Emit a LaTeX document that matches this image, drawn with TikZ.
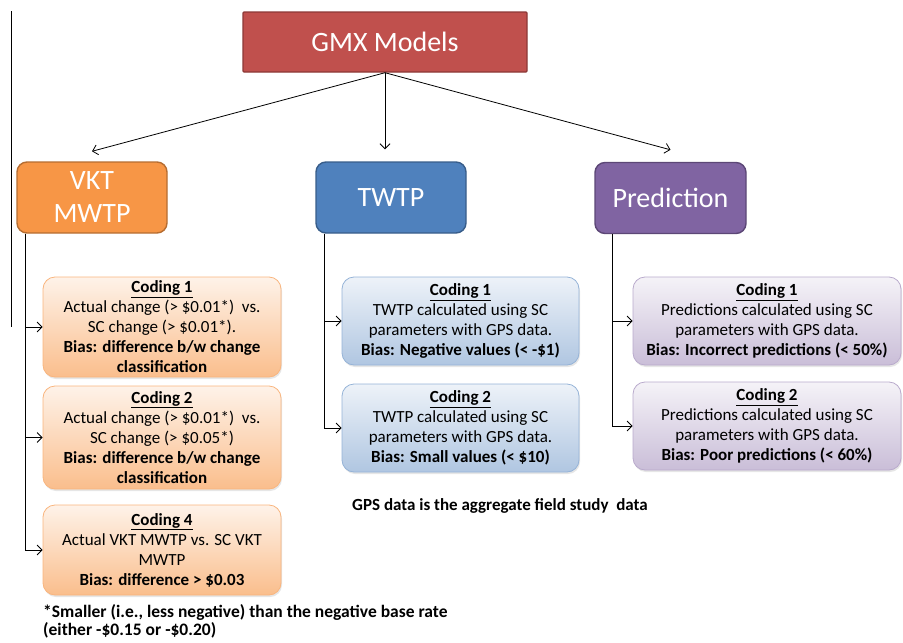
\documentclass[tikz,border=0pt]{standalone}
\usepackage{fontspec}
\setmainfont{Carlito}
\usetikzlibrary{arrows.meta,shadows}

\definecolor{gmxred}{HTML}{C0504D}
\definecolor{gmxredline}{HTML}{8C3836}
\definecolor{vktorange}{HTML}{F79646}
\definecolor{vktorangeline}{HTML}{B66D31}
\definecolor{twtpblue}{HTML}{4F81BD}
\definecolor{twtpblueline}{HTML}{385D8A}
\definecolor{predpurple}{HTML}{8064A2}
\definecolor{predpurpleline}{HTML}{5C4776}

\tikzset{
    arr/.style={-{Straight Barb[length=5pt,width=10pt]}, line width=0.8pt},
    headbox/.style={rectangle, rounded corners=10pt, line width=1.4pt, text=white,
        font=\fontsize{28}{33}\selectfont, align=center, inner sep=0pt,
        minimum width=150pt, minimum height=71pt},
    codebox/.style={rectangle, rounded corners=12pt, line width=0.8pt,
        font=\fontsize{17}{20}\selectfont, align=center, inner sep=0pt,
        drop shadow={opacity=0.2, shadow xshift=1pt, shadow yshift=-2pt}},
    vktcode/.style={codebox, draw=vktorange!70, top color=vktorange!12, bottom color=vktorange!62,
        minimum width=238pt},
    twtpcode/.style={codebox, draw=twtpblue!60, top color=twtpblue!10, bottom color=twtpblue!45,
        minimum width=237pt, minimum height=88pt},
    predcode/.style={codebox, draw=predpurple!55, top color=predpurple!8, bottom color=predpurple!42,
        minimum width=268pt, minimum height=88pt},
}

\begin{document}
\begin{tikzpicture}[x=1pt,y=-1pt]
    \useasboundingbox (0,0) rectangle (903,643);

    % stray rule on the left
    \draw[line width=0.8pt] (11,11) -- (11,327);

    % top level
    \node[headbox, rounded corners=1pt, fill=gmxred, draw=gmxredline,
        minimum width=284pt, minimum height=60pt] (gmx) at (385,42) {GMX Models};

    \node[headbox, fill=vktorange, draw=vktorangeline] (vkt) at (92,197.5) {VKT\\MWTP};
    \node[headbox, fill=twtpblue, draw=twtpblueline] (twtp) at (391,197.5) {TWTP};
    \node[headbox, fill=predpurple, draw=predpurpleline, minimum width=151pt] (pred) at (670.5,198) {Prediction};

    \draw[arr] (gmx.south) -- ([yshift=10pt]vkt.north);
    \draw[arr, shorten >=12pt] (gmx.south) -- (gmx.south |- twtp.north);
    \draw[arr] (gmx.south) -- ([yshift=12pt]pred.north);

    % VKT MWTP codings
    \node[vktcode, minimum height=100pt] (vc1) at (162,327)
        {\textbf{\underline{Coding 1}}\\Actual change (> \$0.01*)~ vs.\\SC change (> \$0.01*).\\
         \textbf{Bias: difference b/w change}\\\textbf{classification}};
    \node[vktcode, minimum height=103pt] (vc2) at (162,437.5)
        {\textbf{\underline{Coding 2}}\\Actual change (> \$0.01*)~ vs.\\SC change (> \$0.05*)\\
         \textbf{Bias: difference b/w change}\\\textbf{classification}};
    \node[vktcode, minimum height=90pt] (vc4) at (162,550)
        {\textbf{\underline{Coding 4}}\\Actual VKT MWTP vs. SC VKT\\MWTP\\
         \textbf{Bias: difference > \$0.03}};

    \foreach \c in {vc1,vc2,vc4}
        \draw[arr] ([xshift=9pt]vkt.south west) |- (\c.west);

    % TWTP codings
    \node[twtpcode] (tc1) at (460.5,321)
        {\textbf{\underline{Coding 1}}\\TWTP calculated using SC\\parameters with GPS data.\\
         \textbf{Bias: Negative values (< -\$1)}};
    \node[twtpcode] (tc2) at (460.5,428)
        {\textbf{\underline{Coding 2}}\\TWTP calculated using SC\\parameters with GPS data.\\
         \textbf{Bias: Small values (< \$10)}};

    \foreach \c in {tc1,tc2}
        \draw[arr] ([xshift=9pt]twtp.south west) |- (\c.west);

    % Prediction codings
    \node[predcode] (pc1) at (767,321)
        {\textbf{\underline{Coding 1}}\\Predictions calculated using SC\\parameters with GPS data.\\
         \textbf{Bias: Incorrect predictions (< 50\%)}};
    \node[predcode] (pc2) at (767,426)
        {\textbf{\underline{Coding 2}}\\Predictions calculated using SC\\parameters with GPS data.\\
         \textbf{Bias: Poor predictions (< 60\%)}};

    \foreach \c in {pc1,pc2}
        \draw[arr] ([xshift=18pt]pred.south west) |- (\c.west);

    % notes
    \node[font=\fontsize{17}{20}\selectfont\bfseries] (gpsnote) at (500,506)
        {GPS data is the aggregate field study~ data};
    \node[font=\fontsize{17.5}{18}\selectfont\bfseries, align=left, anchor=north west, inner sep=0pt] (footnote) at (43,604)
        {*Smaller (i.e., less negative) than the negative base rate\\(either -\$0.15 or -\$0.20)};
\end{tikzpicture}
\end{document}
